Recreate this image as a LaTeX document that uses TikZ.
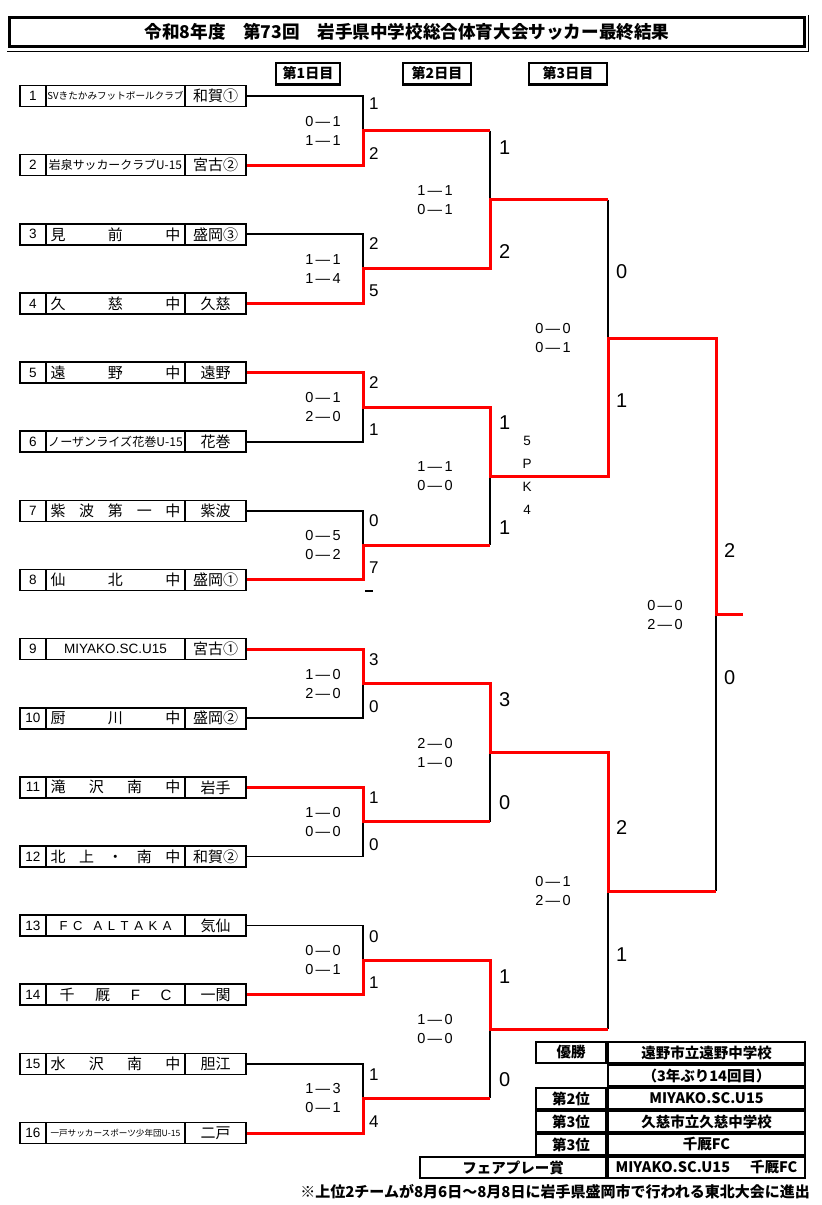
\documentclass[tikz,border=0pt]{standalone}
\usepackage{fontspec}
\setmainfont{Noto Sans CJK JP}
\newfontfamily\lsans{Liberation Sans}
\newcommand{\spreadbox}[2]{\makebox[#1][s]{#2}}

\tikzstyle{num} = [draw, line width=1.6pt, minimum width=26pt, minimum height=21pt, inner sep=0pt, font=\lsans\fontsize{13.5}{13.5}\selectfont]
\tikzstyle{team} = [draw, line width=1.6pt, minimum width=139pt, minimum height=21pt, inner sep=0pt, font=\fontsize{15}{15}\selectfont]
\tikzstyle{area} = [draw, line width=1.6pt, minimum width=61pt, minimum height=21pt, inner sep=0pt, font=\fontsize{15}{15}\selectfont]
\tikzstyle{day} = [draw, line width=2.5pt, minimum height=21.5pt, inner sep=0pt, font=\bfseries\fontsize{14}{14}\selectfont]
\tikzstyle{cell} = [draw, line width=1.6pt, minimum height=21.5pt, inner sep=0pt, font=\bfseries\fontsize{14.5}{14.5}\selectfont]
\tikzstyle{score} = [anchor=west, inner sep=0pt, font=\lsans\fontsize{17}{17}\selectfont]
\tikzstyle{bigscore} = [anchor=west, inner sep=0pt, font=\lsans\fontsize{20}{20}\selectfont]
\tikzstyle{match} = [align=center, inner sep=0pt, font=\lsans\fontsize{14.5}{19}\selectfont]
\tikzstyle{win} = [draw=red, line width=3pt]
\tikzstyle{lose} = [draw=black, line width=1.7pt]

\begin{document}
\begin{tikzpicture}[x=1pt, y=1pt, yscale=-1]
\useasboundingbox (0,0) rectangle (822,1205);

% title
\node at (407, 32) (title) [draw, line width=3pt, minimum width=795pt, minimum height=29pt, font=\bfseries\fontsize{17.6}{17.6}\selectfont] {令和8年度\quad 第73回\quad 岩手県中学校総合体育大会サッカー最終結果};
\draw[line width=1pt] (7,51) -- (808,51) -- (808,15);

\node at (308, 73.5) (day1) [day, minimum width=64pt] {第1日目};
\node at (437, 73.5) (day2) [day, minimum width=68pt] {第2日目};
\node at (568, 73.5) (day3) [day, minimum width=78pt] {第3日目};

% teams
\node at (33, 96) (n1) [num] {1};
\node at (115.5, 96) (t1) [team] {\fontsize{9.6}{9.6}\selectfont SVきたかみフットボールクラブ};
\node at (215.5, 96) (r1) [area] {和賀①};
\node at (33, 165.1) (n2) [num] {2};
\node at (115.5, 165.1) (t2) [team] {\fontsize{11.9}{11.9}\selectfont 岩泉サッカークラブU-15};
\node at (215.5, 165.1) (r2) [area] {宮古②};
\node at (33, 234.3) (n3) [num] {3};
\node at (115.5, 234.3) (t3) [team] {\spreadbox{130pt}{見\hfill 前\hfill 中}};
\node at (215.5, 234.3) (r3) [area] {盛岡③};
\node at (33, 303.4) (n4) [num] {4};
\node at (115.5, 303.4) (t4) [team] {\spreadbox{130pt}{久\hfill 慈\hfill 中}};
\node at (215.5, 303.4) (r4) [area] {久慈};
\node at (33, 372.5) (n5) [num] {5};
\node at (115.5, 372.5) (t5) [team] {\spreadbox{130pt}{遠\hfill 野\hfill 中}};
\node at (215.5, 372.5) (r5) [area] {遠野};
\node at (33, 441.7) (n6) [num] {6};
\node at (115.5, 441.7) (t6) [team] {\fontsize{12.1}{12.1}\selectfont ノーザンライズ花巻U-15};
\node at (215.5, 441.7) (r6) [area] {花巻};
\node at (33, 510.8) (n7) [num] {7};
\node at (115.5, 510.8) (t7) [team] {\spreadbox{130pt}{紫\hfill 波\hfill 第\hfill 一\hfill 中}};
\node at (215.5, 510.8) (r7) [area] {紫波};
\node at (33, 579.9) (n8) [num] {8};
\node at (115.5, 579.9) (t8) [team] {\spreadbox{130pt}{仙\hfill 北\hfill 中}};
\node at (215.5, 579.9) (r8) [area] {盛岡①};
\node at (33, 649.1) (n9) [num] {9};
\node at (115.5, 649.1) (t9) [team] {\lsans\fontsize{13.5}{13.5}\selectfont MIYAKO.SC.U15};
\node at (215.5, 649.1) (r9) [area] {宮古①};
\node at (33, 718.2) (n10) [num] {10};
\node at (115.5, 718.2) (t10) [team] {\spreadbox{130pt}{厨\hfill 川\hfill 中}};
\node at (215.5, 718.2) (r10) [area] {盛岡②};
\node at (33, 787.3) (n11) [num] {11};
\node at (115.5, 787.3) (t11) [team] {\spreadbox{130pt}{滝\hfill 沢\hfill 南\hfill 中}};
\node at (215.5, 787.3) (r11) [area] {岩手};
\node at (33, 856.5) (n12) [num] {12};
\node at (115.5, 856.5) (t12) [team] {\spreadbox{130pt}{北\hfill 上\hfill ・\hfill 南\hfill 中}};
\node at (215.5, 856.5) (r12) [area] {和賀②};
\node at (33, 925.6) (n13) [num] {13};
\node at (115.5, 925.6) (t13) [team] {\lsans\fontsize{13}{13}\selectfont\spreadbox{112pt}{F\hfill C\hfill\hfill A\hfill L\hfill T\hfill A\hfill K\hfill A}};
\node at (215.5, 925.6) (r13) [area] {気仙};
\node at (33, 994.7) (n14) [num] {14};
\node at (115.5, 994.7) (t14) [team] {\spreadbox{112pt}{千\hfill 厩\hfill {\lsans F}\hfill {\lsans C}}};
\node at (215.5, 994.7) (r14) [area] {一関};
\node at (33, 1063.9) (n15) [num] {15};
\node at (115.5, 1063.9) (t15) [team] {\spreadbox{130pt}{水\hfill 沢\hfill 南\hfill 中}};
\node at (215.5, 1063.9) (r15) [area] {胆江};
\node at (33, 1133) (n16) [num] {16};
\node at (115.5, 1133) (t16) [team] {\fontsize{8.6}{8.6}\selectfont 一戸サッカースポーツ少年団U-15};
\node at (215.5, 1133) (r16) [area] {二戸};

% bracket joints
\coordinate (a1) at (363, 130.6);
\coordinate (a2) at (363, 268.8);
\coordinate (a3) at (363, 407.1);
\coordinate (a4) at (363, 545.4);
\coordinate (a5) at (363, 683.6);
\coordinate (a6) at (363, 821.9);
\coordinate (a7) at (363, 960.2);
\coordinate (a8) at (363, 1098.4);
\coordinate (b1) at (490, 199.7);
\coordinate (b2) at (490, 476.2);
\coordinate (b3) at (490, 752.8);
\coordinate (b4) at (490, 1029.3);
\coordinate (c1) at (608, 338);
\coordinate (c2) at (608, 891);
\coordinate (f) at (716, 614.5);
\coordinate (champ) at (743, 614.5);

% losers
\draw[lose] (r1.east) -| (a1);
\draw[lose] (r3.east) -| (a2);
\draw[lose] (r6.east) -| (a3);
\draw[lose] (r7.east) -| (a4);
\draw[lose] (r10.east) -| (a5);
\draw[lose] (r12.east) -| (a6);
\draw[lose] (r13.east) -| (a7);
\draw[lose] (r15.east) -| (a8);
\draw[lose] (a1 -| b1) -- (b1);
\draw[lose] (a4 -| b2) -- (b2);
\draw[lose] (a6 -| b3) -- (b3);
\draw[lose] (a8 -| b4) -- (b4);
\draw[lose] (b1 -| c1) -- (c1);
\draw[lose] (b4 -| c2) -- (c2);
\draw[lose] (c2 -| f) -- (f);
\draw[line width=1.5pt] (365,591) -- (373,591);

% winners
\draw[win] (r2.east) -| (a1) -- (a1 -| b1);
\draw[win] (r4.east) -| (a2) -| (b1) -- (b1 -| c1);
\draw[win] (r5.east) -| (a3) -| (b2) -| (c1) -| (f) -- (champ);
\draw[win] (r8.east) -| (a4) -- (a4 -| b2);
\draw[win] (r9.east) -| (a5) -| (b3) -| (c2) -- (c2 -| f);
\draw[win] (r11.east) -| (a6) -- (a6 -| b3);
\draw[win] (r14.east) -| (a7) -| (b4) -- (b4 -| c2);
\draw[win] (r16.east) -| (a8) -- (a8 -| b4);

% scores day 1
\node at (369, 104) (s1) [score] {1};
\node at (369, 154) (s2) [score] {2};
\node at (369, 244) (s3) [score] {2};
\node at (369, 291) (s4) [score] {5};
\node at (369, 383) (s5) [score] {2};
\node at (369, 430) (s6) [score] {1};
\node at (369, 521) (s7) [score] {0};
\node at (369, 568) (s8) [score] {7};
\node at (369, 660) (s9) [score] {3};
\node at (369, 707) (s10) [score] {0};
\node at (369, 798) (s11) [score] {1};
\node at (369, 845) (s12) [score] {0};
\node at (369, 937) (s13) [score] {0};
\node at (369, 983) (s14) [score] {1};
\node at (369, 1075) (s15) [score] {1};
\node at (369, 1122) (s16) [score] {4};
\node at (323, 130.6) (m1) [match] {0\,—\,1\\1\,—\,1};
\node at (323, 268.8) (m2) [match] {1\,—\,1\\1\,—\,4};
\node at (323, 407.1) (m3) [match] {0\,—\,1\\2\,—\,0};
\node at (323, 545.4) (m4) [match] {0\,—\,5\\0\,—\,2};
\node at (323, 683.6) (m5) [match] {1\,—\,0\\2\,—\,0};
\node at (323, 821.9) (m6) [match] {1\,—\,0\\0\,—\,0};
\node at (323, 960.2) (m7) [match] {0\,—\,0\\0\,—\,1};
\node at (323, 1098.4) (m8) [match] {1\,—\,3\\0\,—\,1};

% scores day 2
\node at (499, 148) (u1) [bigscore] {1};
\node at (499, 252) (u2) [bigscore] {2};
\node at (499, 423) (u3) [bigscore] {1};
\node at (499, 528) (u4) [bigscore] {1};
\node at (499, 700) (u5) [bigscore] {3};
\node at (499, 803) (u6) [bigscore] {0};
\node at (499, 977) (u7) [bigscore] {1};
\node at (499, 1080) (u8) [bigscore] {0};
\node at (435, 199.7) (k1) [match] {1\,—\,1\\0\,—\,1};
\node at (435, 476.2) (k2) [match] {1\,—\,1\\0\,—\,0};
\node at (435, 752.8) (k3) [match] {2\,—\,0\\1\,—\,0};
\node at (435, 1029.3) (k4) [match] {1\,—\,0\\0\,—\,0};
\node at (527, 475.5) (pk) [align=center, inner sep=0pt, font=\lsans\fontsize{13.5}{23}\selectfont] {5\\P\\K\\4};

% scores day 3
\node at (616, 272) (v1) [bigscore] {0};
\node at (616, 401) (v2) [bigscore] {1};
\node at (616, 828) (v3) [bigscore] {2};
\node at (616, 955) (v4) [bigscore] {1};
\node at (724, 551) (v5) [bigscore] {2};
\node at (724, 678) (v6) [bigscore] {0};
\node at (553, 338) (g1) [match] {0\,—\,0\\0\,—\,1};
\node at (553, 891) (g2) [match] {0\,—\,1\\2\,—\,0};
\node at (665, 614.5) (g3) [match] {0\,—\,0\\2\,—\,0};

% result table
\node at (571, 1052.5) (p1) [cell, minimum width=70.5pt] {優勝};
\node at (706.5, 1052.5) (q1) [cell, minimum width=197.5pt] {遠野市立遠野中学校};
\node at (706.5, 1075.5) (q0) [cell, minimum width=197.5pt] {（3年ぶり14回目）};
\node at (571, 1098.5) (p2) [cell, minimum width=70.5pt] {第2位};
\node at (706.5, 1098.5) (q2) [cell, minimum width=197.5pt] {MIYAKO.SC.U15};
\node at (571, 1121.5) (p3) [cell, minimum width=70.5pt] {第3位};
\node at (706.5, 1121.5) (q3) [cell, minimum width=197.5pt] {久慈市立久慈中学校};
\node at (571, 1144.5) (p4) [cell, minimum width=70.5pt] {第3位};
\node at (706.5, 1144.5) (q4) [cell, minimum width=197.5pt] {千厩FC};
\node at (513, 1167.5) (p5) [cell, minimum width=186.5pt] {フェアプレー賞};
\node at (706.5, 1167.5) (q5) [cell, minimum width=197.5pt] {MIYAKO.SC.U15\hspace{20pt}千厩FC};
\node at (810, 1192) (note) [anchor=east, inner sep=0pt, font=\bfseries\fontsize{15}{15}\selectfont] {※上位2チームが8月6日～8月8日に岩手県盛岡市で行われる東北大会に進出};

\end{tikzpicture}
\end{document}
